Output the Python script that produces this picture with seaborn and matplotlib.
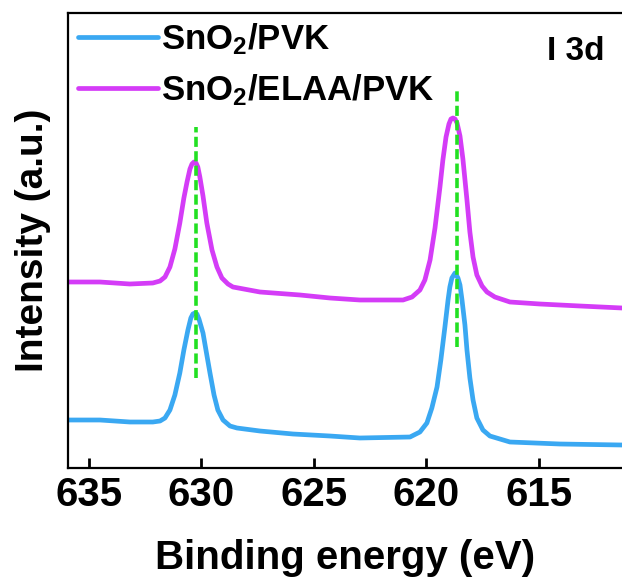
import pandas as pd
import matplotlib
matplotlib.use("Agg")
import matplotlib.pyplot as plt
import seaborn as sns

# Espectro XPS I 3d
be_elaa = [635.93, 634.51, 633.18, 632.16, 631.84, 631.62, 631.40, 631.18, 630.96, 630.78,
           630.64, 630.51, 630.42, 630.33, 630.24, 630.16, 630.07, 629.93, 629.76, 629.53,
           629.31, 629.09, 628.82, 628.60, 627.40, 625.62, 624.29, 622.96, 621.04, 620.64,
           620.29, 620.07, 619.84, 619.62, 619.40, 619.27, 619.13, 619.00, 618.91, 618.82,
           618.73, 618.64, 618.51, 618.38, 618.20, 618.07, 617.93, 617.76, 617.53, 617.31,
           616.96, 616.29, 614.96, 613.18, 611.31]
int_elaa = [186, 186, 184, 185, 187, 191, 201, 219, 245, 270,
            286, 299, 304, 306, 305, 301, 291, 272, 245, 218,
            201, 190, 184, 181, 176, 173, 170, 168, 168, 171,
            178, 188, 208, 240, 281, 308, 331, 344, 349, 350,
            349, 345, 332, 309, 268, 236, 211, 193, 182, 176,
            171, 166, 164, 162, 160]

be_ref = [635.93, 634.51, 633.18, 632.16, 631.84, 631.62, 631.40, 631.18, 630.96, 630.78,
          630.60, 630.47, 630.38, 630.29, 630.20, 630.11, 629.93, 629.76, 629.62, 629.44,
          629.27, 629.04, 628.73, 628.42, 627.40, 625.93, 624.29, 622.96, 620.73, 620.29,
          619.98, 619.76, 619.53, 619.36, 619.18, 619.04, 618.96, 618.87, 618.73, 618.60,
          618.51, 618.42, 618.29, 618.20, 618.07, 617.93, 617.76, 617.49, 617.18, 616.29,
          614.07, 611.31]
int_ref = [48, 48, 46, 46, 47, 50, 58, 73, 95, 118,
           138, 150, 154, 155, 154, 149, 135, 113, 95, 73,
           58, 48, 42, 40, 37, 34, 32, 30, 31, 36,
           45, 60, 81, 108, 141, 168, 181, 190, 195, 190,
           183, 168, 143, 118, 90, 68, 50, 38, 32, 26,
           24, 23]

# linhas tracejadas nos picos
peak_pos = [630.24, 618.64]
peak_low = [90, 121]
peak_high = [341, 381]

labels = ["SnO$_2$/PVK", "SnO$_2$/ELAA/PVK"]
cores = ["#3AA8F2", "#D43CF7"]

df = pd.concat([
    pd.DataFrame({"be": be_ref, "intensity": int_ref, "amostra": labels[0]}),
    pd.DataFrame({"be": be_elaa, "intensity": int_elaa, "amostra": labels[1]}),
])

sns.set_theme(style="ticks")
plt.rcParams["font.family"] = ["Liberation Sans", "DejaVu Sans"]
plt.rcParams["font.weight"] = "bold"
plt.rcParams["text.color"] = "black"
plt.rcParams["axes.labelcolor"] = "black"
plt.rcParams["xtick.color"] = "black"
plt.rcParams["mathtext.fontset"] = "custom"
plt.rcParams["mathtext.rm"] = "Liberation Sans:bold"
plt.rcParams["mathtext.it"] = "Liberation Sans:bold"
plt.rcParams["mathtext.bf"] = "Liberation Sans:bold"

fig = plt.figure(figsize=(6.22, 5.8), dpi=100)
ax = fig.add_axes([0.1093, 0.1931, 0.8907, 0.7845])

sns.lineplot(data=df, x="be", y="intensity", hue="amostra", palette=cores,
             sort=False, linewidth=3.4, ax=ax, legend=False)
for ln in ax.lines:
    ln.set_solid_joinstyle("round")
    ln.set_solid_capstyle("round")

for x, y0, y1 in zip(peak_pos, peak_low, peak_high):
    ax.plot([x, x], [y0, y1], color="#22E022", linewidth=2.6,
            dashes=(2.8, 1.2), zorder=5)

ax.set_xlim(635.93, 611.31)
ax.set_ylim(0, 455)
ax.set_xticks([635, 630, 625, 620, 615])
ax.set_yticks([])
ax.tick_params(axis="x", direction="in", length=7, width=2, labelsize=29, pad=6,
               colors="black")
for lab in ax.get_xticklabels():
    lab.set_fontweight("bold")
for s in ["left", "bottom", "top"]:
    ax.spines[s].set_linewidth(1.6)
    ax.spines[s].set_color("black")
ax.spines["right"].set_visible(False)

ax.set_xlabel("Binding energy (eV)", fontsize=29, fontweight="bold", labelpad=18,
              color="black")
ax.set_ylabel("Intensity (a.u.)", fontsize=28, fontweight="bold", labelpad=12,
              color="black")

handles = [plt.Line2D([], [], color=c, linewidth=3.4, solid_capstyle="round") for c in cores]
ax.legend(handles, labels, loc="upper left", bbox_to_anchor=(0.012, 0.99),
          frameon=False, handlelength=2.3, handletextpad=0.1,
          labelspacing=0.45, borderpad=0.1, borderaxespad=0.0,
          prop={"weight": "bold", "size": 25}, labelcolor="black")

ax.text(0.968, 0.915, "I 3d", transform=ax.transAxes, ha="right", va="center",
        fontsize=24, fontweight="bold", color="black")

fig.savefig("out.png", dpi=100)
